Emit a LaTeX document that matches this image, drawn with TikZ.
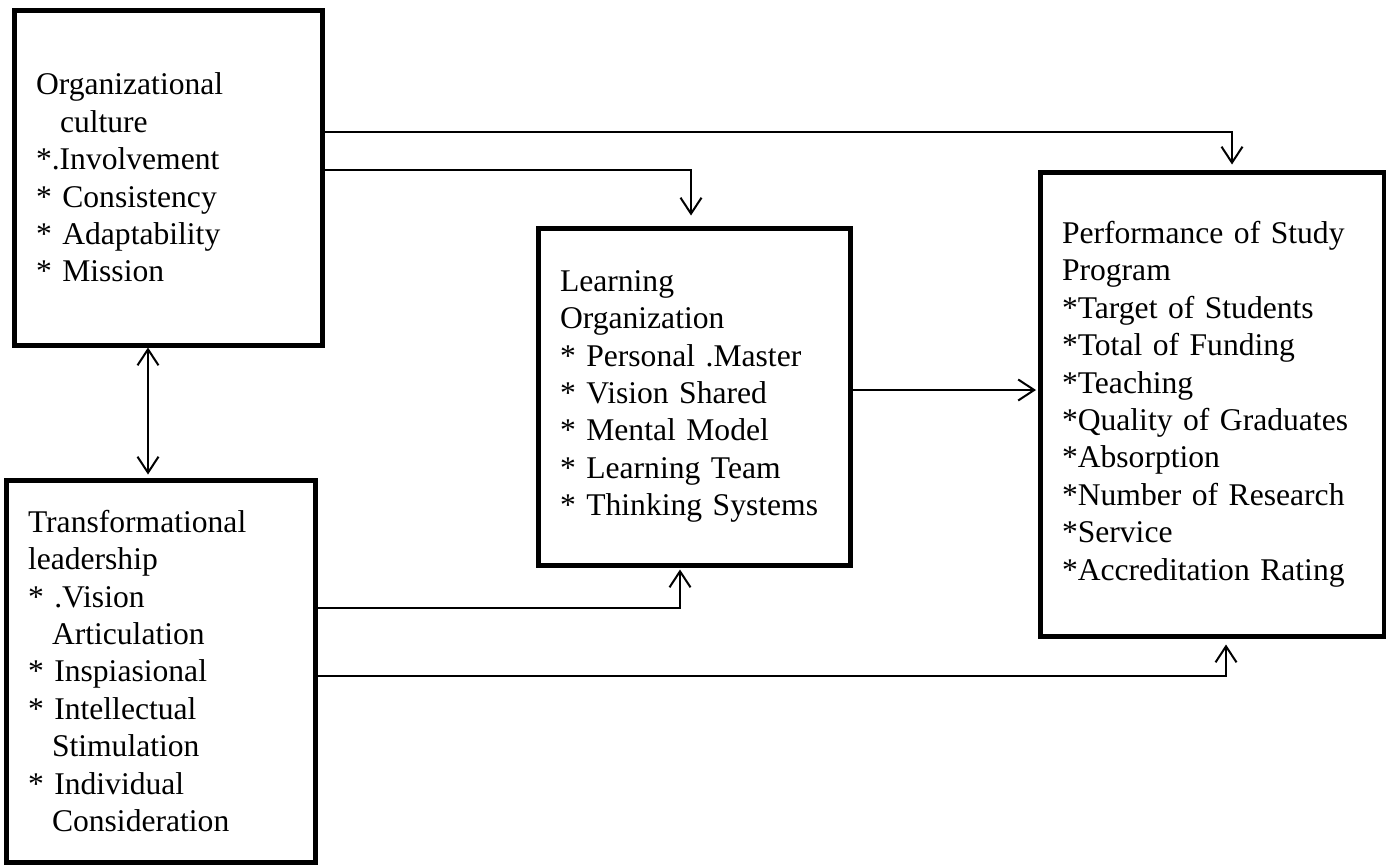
\documentclass[tikz,border=0pt]{standalone}
\usepackage{fontspec}
\setmainfont{Liberation Serif}
\usetikzlibrary{arrows.meta}
\tikzset{
  frame/.style={draw, line width=5pt, rectangle, align=left, inner xsep=22pt,
    font=\fontsize{31.6}{37.4}\selectfont, anchor=center},
  arr/.style={line width=2pt, -{Straight Barb[length=16pt,width=21pt]}},
  arrs/.style={line width=2pt, {Straight Barb[length=16pt,width=21pt]}-{Straight Barb[length=16pt,width=21pt]}}
}
\newcommand{\ind}{\hspace*{24pt}}
\begin{document}
\begin{tikzpicture}[x=1pt,y=-1pt]
\useasboundingbox (0,0) rectangle (1386,865);
\fill[white] (0,0) rectangle (1386,865);

\node[frame, text width=264pt, minimum height=335pt] (oc) at (168,177.5)
  {Organizational\\ \ind culture\\ {*}.Involvement\\ {*} Consistency\\ {*} Adaptability\\ {*} Mission};
\node[frame, text width=265pt, minimum height=382pt] (tl) at (160.5,671)
  {Transformational\\ leadership\\ {*} .Vision\\ \ind Articulation\\ {*} Inspiasional\\ {*} Intellectual\\ \ind Stimulation\\ {*} Individual\\ \ind Consideration};
\node[frame, text width=268pt, minimum height=337pt] (lo) at (694,396.5)
  {Learning\\ Organization\\ {*} Personal .Master\\ {*} Vision Shared\\ {*} Mental Model\\ {*} Learning Team\\ {*} Thinking Systems};
\node[frame, text width=300pt, minimum height=464pt] (pp) at (1212,404)
  {Performance of Study\\ Program\\ {*}Target of Students\\ {*}Total of Funding\\ {*}Teaching\\ {*}Quality of Graduates\\ {*}Absorption\\ {*}Number of Research\\ {*}Service\\ {*}Accreditation Rating};

\coordinate (k1) at (1232,132);
\coordinate (k2) at (691,170);
\coordinate (k3) at (680,608);
\coordinate (k4) at (1226,676);
\coordinate (k5) at (148,390);

\draw[arr, shorten >=5pt] (oc.east |- k1) -- (k1) -- (k1 |- pp.north);
\draw[arr, shorten >=10pt] (oc.east |- k2) -- (k2) -- (k2 |- lo.north);
\draw[arr, shorten >=2pt] (tl.east |- k3) -- (k3) -- (k3 |- lo.south);
\draw[arr, shorten >=6pt] (tl.east |- k4) -- (k4) -- (k4 |- pp.south);
\draw[arr, shorten >=1.5pt] (lo.east |- 0,390) -- (pp.west |- 0,390);
\draw[arrs, shorten >=3pt] (k5 |- oc.south) -- (k5 |- tl.north);
\end{tikzpicture}
\end{document}
